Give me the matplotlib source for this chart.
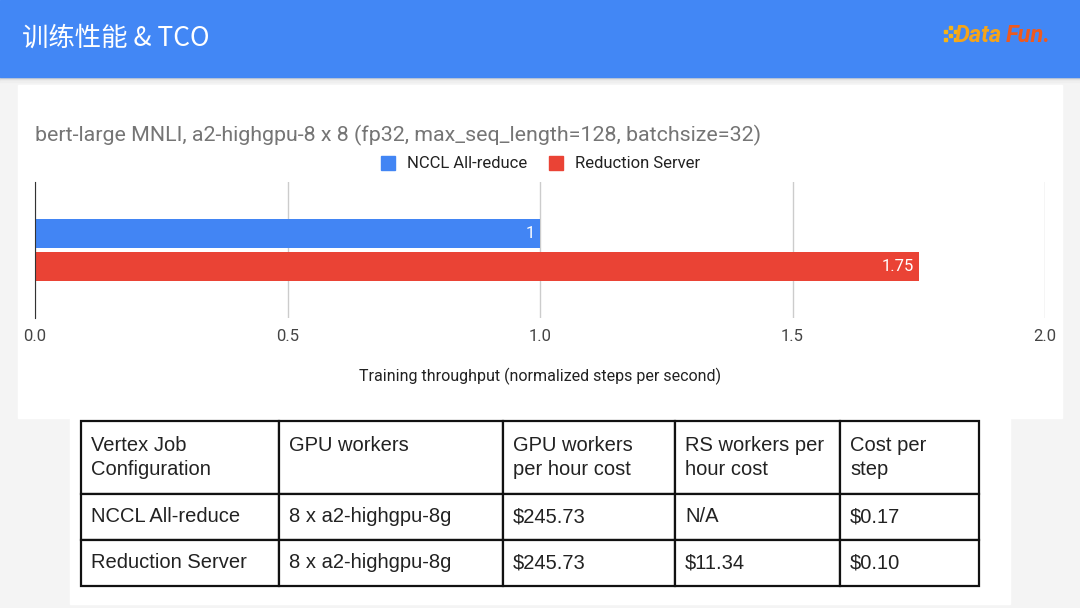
import matplotlib.pyplot as plt
from matplotlib.patches import Rectangle

plt.rcParams['font.family'] = ['Roboto', 'Noto Sans CJK SC', 'DejaVu Sans']

# data
series = ['NCCL All-reduce', 'Reduction Server']
throughput = [1.0, 1.75]
bar_labels = ['1', '1.75']
colors = ['#4285f4', '#ea4335']

table_header = ['Vertex Job\nConfiguration', 'GPU workers', 'GPU workers\nper hour cost',
                'RS workers per\nhour cost', 'Cost per\nstep']
table_rows = [
    ['NCCL All-reduce', '8 x a2-highgpu-8g', '$245.73', 'N/A', '$0.17'],
    ['Reduction Server', '8 x a2-highgpu-8g', '$245.73', '$11.34', '$0.10'],
]

W, H = 1080, 608
fig = plt.figure(figsize=(W / 100, H / 100), dpi=100, facecolor='#f4f4f4')


def px_axes(x0, y0, x1, y1, **kw):
    # pixel box (top-left origin) -> figure axes
    return fig.add_axes([x0 / W, 1 - y1 / H, (x1 - x0) / W, (y1 - y0) / H], **kw)


# background panels and header
bg = px_axes(0, 0, W, H)
bg.set_xlim(0, W)
bg.set_ylim(H, 0)
bg.axis('off')
bg.add_patch(Rectangle((18, 85), 1044, 333, color='white'))
bg.add_patch(Rectangle((70, 418), 940, 186, color='white'))
for i, c in enumerate(['#b9b9b9', '#cfcfcf', '#dedede', '#e9e9e9', '#efefef']):
    bg.add_patch(Rectangle((0, 77 + i), W, 1, color=c))
bg.add_patch(Rectangle((0, 0), W, 77, color='#4287f5'))
bg.text(22, 38, '训练性能 & TCO', color='white', fontsize=19, va='center',
        family=['Noto Sans CJK SC', 'DejaVu Sans'])
for dx, dy in [(0, 0), (5, -4), (5, 4), (10, 0), (10, 8), (0, 8)]:
    bg.add_patch(Rectangle((944 + dx, 30 + dy), 3, 3, color='#f5b316'))
bg.text(955, 36, 'Data', color='#f5a41a', fontsize=17, fontweight='bold',
        style='italic', va='center')
bg.text(1006, 36, 'Fun.', color='#ee5a1e', fontsize=17, fontweight='bold',
        style='italic', va='center')

# chart title and legend
bg.text(35, 135, 'bert-large MNLI, a2-highgpu-8 x 8 (fp32, max_seq_length=128, batchsize=32)',
        color='#757575', fontsize=15.4, va='center')
lx = [381, 549]
for x, name, c in zip(lx, series, colors):
    bg.add_patch(Rectangle((x, 156), 14, 14, color=c))
    bg.text(x + 26, 163, name, fontsize=12, va='center', color='#222222')

# bar chart
ax = px_axes(35, 182, 1045, 318)
pos = [0, 1]
ax.barh(pos, throughput, height=0.88, color=colors, zorder=3)
for p, v, lab in zip(pos, throughput, bar_labels):
    ax.text(v - 0.01, p, lab, color='white', ha='right', va='center', fontsize=12, zorder=4)
ax.set_xlim(0, 2.0)
ax.set_ylim(2.56, -1.56)
ax.set_xticks([0, 0.5, 1.0, 1.5, 2.0])
ax.set_xticklabels(['0.0', '0.5', '1.0', '1.5', '2.0'])
ax.set_yticks([])
ax.grid(axis='x', color='#cccccc', linewidth=1, zorder=0)
for s in ['top', 'right', 'bottom']:
    ax.spines[s].set_visible(False)
ax.spines['left'].set_color('#333333')
ax.spines['left'].set_zorder(5)
ax.tick_params(axis='x', length=0, pad=8, labelsize=12, labelcolor='#444444')
ax.set_facecolor('none')
ax.set_xlabel('Training throughput (normalized steps per second)', fontsize=11.5,
              color='#222222', labelpad=17)

# cost table
tax = px_axes(81, 421, 979, 586)
tax.axis('off')
col_px = [198, 224, 172, 165, 139]
header_cells = [h if '\n' in h else h + '\n ' for h in table_header]
tbl = tax.table(cellText=[header_cells] + table_rows, cellLoc='left',
                colWidths=[c / sum(col_px) for c in col_px], bbox=[0, 0, 1, 1])
tbl.auto_set_font_size(False)
tbl.set_fontsize(14.5)
row_px = [73, 46, 46]
for (r, c), cell in tbl.get_celld().items():
    cell.set_height(row_px[r])
    cell.set_linewidth(1.6)
    cell.set_edgecolor('#111111')
    cell.PAD = 10 / col_px[c]
    txt = cell.get_text()
    txt.set_family(['Liberation Sans', 'DejaVu Sans'])
    txt.set_color('#222222')
    txt.set_linespacing(1.35)

fig.savefig('out.png', dpi=100, facecolor=fig.get_facecolor())
